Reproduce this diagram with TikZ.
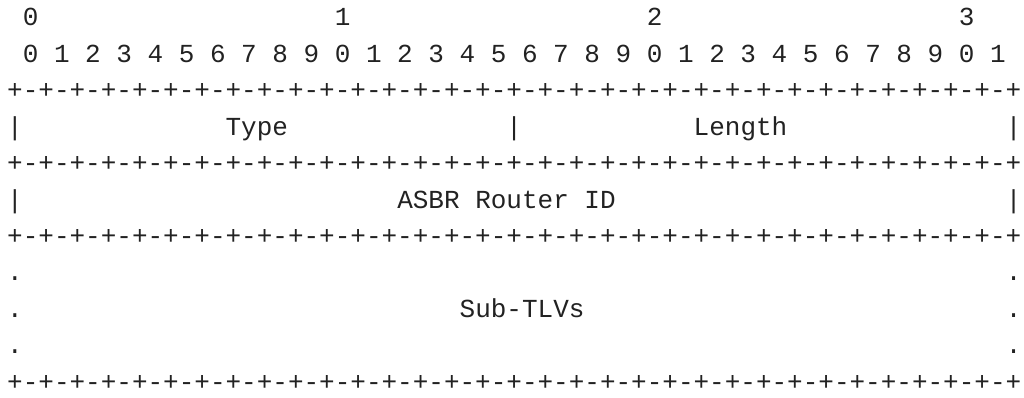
\documentclass[tikz,border=0pt]{standalone}
\usepackage{fontspec}
\newfontfamily\asciimono{Liberation Mono}
\definecolor{textgray}{HTML}{222222}
\newlength\cw
\setlength\cw{15.6025pt}
\newcommand\B[1]{\hspace*{#1\cw}}
\tikzset{
  asciiline/.style={anchor=base west, inner sep=0pt, outer sep=0pt,
    font=\asciimono\fontsize{26}{36}\selectfont, text=textgray},
}
\begin{document}
\begin{tikzpicture}[x=1pt,y=1pt]
\useasboundingbox[fill=white] (0,0) rectangle (1024,-398);
\def\lx{7.2}
\def\ly#1{-26-36.4*(#1-1)}
\node[asciiline] (l1) at (\lx,{\ly{1}}) {\B{1}0\B{19}1\B{19}2\B{19}3};
\node[asciiline] (l2) at (\lx,{\ly{2}}) {\B{1}0~1~2~3~4~5~6~7~8~9~0~1~2~3~4~5~6~7~8~9~0~1~2~3~4~5~6~7~8~9~0~1};
\node[asciiline] (l3) at (\lx,{\ly{3}}) {+-+-+-+-+-+-+-+-+-+-+-+-+-+-+-+-+-+-+-+-+-+-+-+-+-+-+-+-+-+-+-+-+};
\node[asciiline] (l4) at (\lx,{\ly{4}}) {|\B{13}Type\B{14}|\B{11}Length\B{14}|};
\node[asciiline] (l5) at (\lx,{\ly{5}}) {+-+-+-+-+-+-+-+-+-+-+-+-+-+-+-+-+-+-+-+-+-+-+-+-+-+-+-+-+-+-+-+-+};
\node[asciiline] (l6) at (\lx,{\ly{6}}) {|\B{24}ASBR~Router~ID\B{25}|};
\node[asciiline] (l7) at (\lx,{\ly{7}}) {+-+-+-+-+-+-+-+-+-+-+-+-+-+-+-+-+-+-+-+-+-+-+-+-+-+-+-+-+-+-+-+-+};
\node[asciiline] (l8) at (\lx,{\ly{8}}) {.\B{63}.};
\node[asciiline] (l9) at (\lx,{\ly{9}}) {.\B{28}Sub-TLVs\B{27}.};
\node[asciiline] (l10) at (\lx,{\ly{10}}) {.\B{63}.};
\node[asciiline] (l11) at (\lx,{\ly{11}}) {+-+-+-+-+-+-+-+-+-+-+-+-+-+-+-+-+-+-+-+-+-+-+-+-+-+-+-+-+-+-+-+-+};
\end{tikzpicture}
\end{document}
